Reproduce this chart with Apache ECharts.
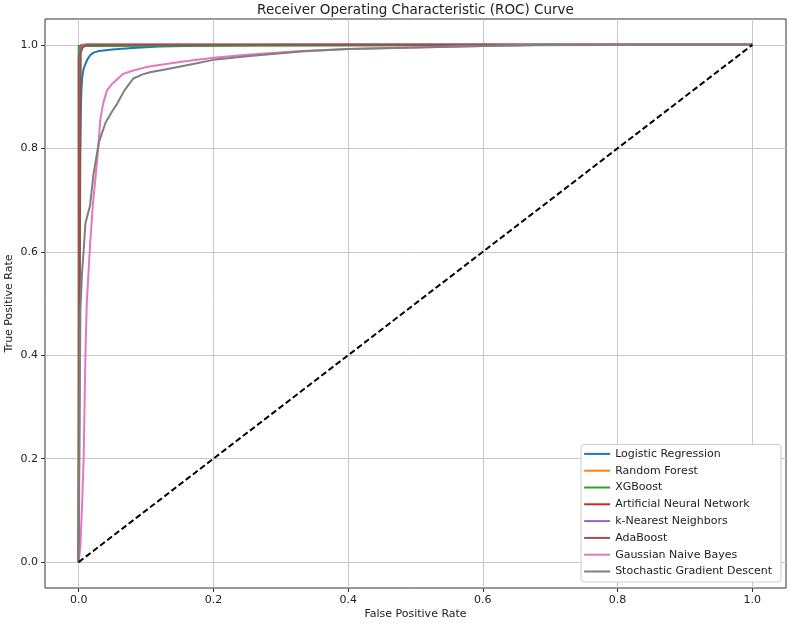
<!DOCTYPE html>
<html>
<head>
<meta charset="utf-8">
<script src="https://cdn.jsdelivr.net/npm/echarts@6/dist/echarts.min.js"></script>
<style>
  html, body { margin: 0; padding: 0; background: #fff; }
  #main { width: 789px; height: 623px; }
</style>
</head>
<body>
<div id="main"></div>
<script>
// tick positions shared by both axes
const tickValues = [0, 0.2, 0.4, 0.6, 0.8, 1.0];

const modelNames = [
  'Logistic Regression', 'Random Forest', 'XGBoost', 'Artificial Neural Network',
  'k-Nearest Neighbors', 'AdaBoost', 'Gaussian Naive Bayes', 'Stochastic Gradient Descent'
];
const modelColors = ['#1f77b4', '#ff7f0e', '#2ca02c', '#d62728', '#9467bd', '#8c564b', '#e377c2', '#7f7f7f'];

// [fpr, tpr] pairs
const logisticRoc = [[0,0],[0.0005,0.35],[0.001,0.6],[0.002,0.78],[0.003,0.87],[0.004,0.91],[0.005,0.935],
  [0.007,0.952],[0.01,0.963],[0.013,0.972],[0.017,0.98],[0.022,0.985],[0.03,0.988],[0.05,0.991],
  [0.08,0.994],[0.12,0.997],[0.2,0.999],[0.3,1],[1,1]];
const forestRoc = [[0,0],[0,0.97],[0.001,0.995],[0.003,1],[1,1]];
const xgbRoc = [[0,0],[0,0.998],[0.002,1],[1,1]];
const annRoc = [[0,0],[0.001,0.98],[0.004,0.997],[0.01,1],[1,1]];
const knnRoc = [[0,0],[0.002,0.99],[0.006,1],[1,1]];
const adaRoc = [[0,0],[0.003,0.985],[0.006,0.995],[0.012,1],[1,1]];
const gnbRoc = [[0,0],[0.0025,0.03],[0.005,0.11],[0.0074,0.2],[0.01,0.4],[0.012,0.5],[0.017,0.616],
  [0.021,0.69],[0.025,0.744],[0.029,0.8],[0.032,0.854],[0.036,0.885],[0.042,0.912],[0.05,0.925],
  [0.066,0.944],[0.08,0.95],[0.1,0.957],[0.13,0.963],[0.155,0.968],[0.2,0.975],[0.25,0.981],
  [0.33,0.988],[0.4,0.992],[0.5,0.995],[0.6,0.998],[0.7,1],[1,1]];
const sgdRoc = [[0,0],[0.001,0.2],[0.002,0.4],[0.0025,0.487],[0.005,0.56],[0.0074,0.603],[0.01,0.655],
  [0.017,0.69],[0.022,0.75],[0.03,0.812],[0.04,0.85],[0.05,0.872],[0.057,0.886],[0.068,0.912],
  [0.081,0.935],[0.095,0.943],[0.106,0.947],[0.13,0.953],[0.17,0.963],[0.2,0.971],[0.25,0.978],
  [0.33,0.987],[0.4,0.992],[0.5,0.995],[0.6,0.998],[0.7,1],[1,1]];
const chanceLine = [[0,0],[1,1]];

const rocData = [logisticRoc, forestRoc, xgbRoc, annRoc, knnRoc, adaRoc, gnbRoc, sgdRoc];

const fontFamily = 'DejaVu Sans';
const chart = echarts.init(document.getElementById('main'));

function makeAxis(name, nameGap) {
  return {
    type: 'value',
    min: -0.05,
    max: 1.05,
    name: name,
    nameLocation: 'middle',
    nameGap: nameGap,
    nameMoveOverlap: false,
    nameTextStyle: { fontFamily: fontFamily, fontSize: 11, color: '#222' },
    axisLine: { show: false, onZero: false },
    axisTick: { show: true, length: 4, customValues: tickValues, lineStyle: { color: '#333' } },
    axisLabel: {
      customValues: tickValues,
      margin: 7,
      fontFamily: fontFamily,
      fontSize: 11,
      color: '#222',
      formatter: v => v.toFixed(1)
    },
    splitLine: { show: true, lineStyle: { color: '#c8c8c8', width: 1 } }
  };
}

const series = rocData.map((d, i) => ({
  name: modelNames[i],
  type: 'line',
  data: d,
  showSymbol: false,
  symbol: 'none',
  animation: false,
  lineStyle: { width: 2, color: modelColors[i] },
  itemStyle: { color: modelColors[i] }
}));
series.push({
  name: 'chance',
  type: 'line',
  data: chanceLine,
  showSymbol: false,
  symbol: 'none',
  animation: false,
  lineStyle: { width: 2, color: '#000', type: [6, 3] }
});

chart.setOption({
  animation: false,
  backgroundColor: '#fff',
  title: {
    text: 'Receiver Operating Characteristic (ROC) Curve',
    left: 415.5,
    textAlign: 'center',
    top: 3,
    padding: 0,
    textStyle: { fontFamily: fontFamily, fontSize: 13.5, fontWeight: 'normal', color: '#222' }
  },
  grid: {
    left: 45, right: 3, top: 19, bottom: 35,
    outerBoundsMode: 'none',
    containLabel: false,
    show: true,
    borderColor: '#333',
    borderWidth: 1,
    backgroundColor: '#fff'
  },
  legend: {
    data: modelNames,
    orient: 'vertical',
    right: 8,
    bottom: 41,
    icon: 'rect',
    itemWidth: 26,
    itemHeight: 2,
    itemGap: 2.8,
    padding: [2.5, 9, 3.5, 3],
    backgroundColor: '#fff',
    borderColor: '#ccc',
    borderWidth: 1,
    borderRadius: 3,
    textStyle: { fontFamily: fontFamily, fontSize: 11, color: '#222', lineHeight: 14 }
  },
  xAxis: makeAxis('False Positive Rate', 21),
  yAxis: makeAxis('True Positive Rate', 30),
  series: series
});
</script>
</body>
</html>
